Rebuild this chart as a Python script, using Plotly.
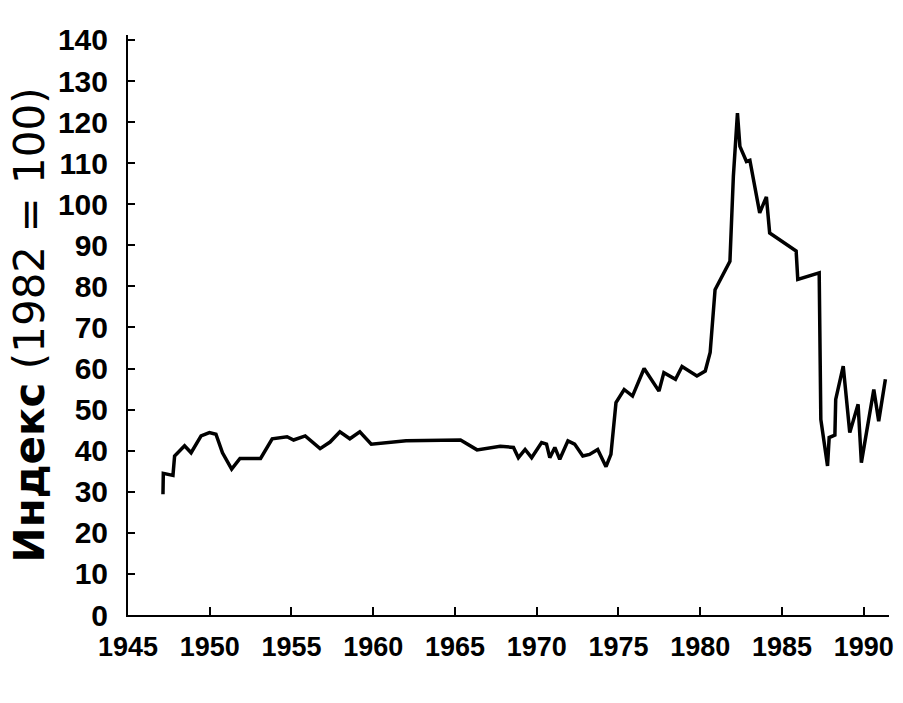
import plotly.graph_objects as go

years = [1947.14, 1947.16, 1947.75, 1947.85, 1948.46, 1948.86, 1949.47, 1949.98, 1950.38, 1950.78,
         1951.34, 1951.85, 1953.11, 1953.82, 1954.73, 1955.13, 1955.84, 1956.75, 1957.36, 1957.96,
         1958.57, 1959.18, 1959.88, 1962.01, 1965.34, 1966.35, 1967.77, 1968.58, 1968.88, 1969.29,
         1969.69, 1970.30, 1970.60, 1970.80, 1971.11, 1971.41, 1971.91, 1972.32, 1972.82, 1973.23,
         1973.73, 1974.24, 1974.54, 1974.85, 1975.35, 1975.86, 1976.57, 1977.48, 1977.78, 1978.49,
         1978.89, 1979.80, 1980.31, 1980.61, 1980.91, 1981.32, 1981.82, 1982.03, 1982.28, 1982.43,
         1982.83, 1983.04, 1983.64, 1984.05, 1984.25, 1985.87, 1985.97, 1987.28, 1987.38, 1987.79,
         1987.89, 1988.24, 1988.29, 1988.75, 1989.15, 1989.66, 1989.86, 1990.62, 1990.92, 1991.33]

index_values = [29.4, 34.5, 34.0, 38.7, 41.2, 39.5, 43.6, 44.4, 44.0, 39.5,
                35.5, 38.1, 38.1, 42.9, 43.4, 42.6, 43.6, 40.5, 42.1, 44.6,
                42.9, 44.6, 41.6, 42.4, 42.6, 40.2, 41.1, 40.8, 38.3, 40.3,
                38.3, 42.0, 41.6, 38.3, 40.8, 37.9, 42.4, 41.6, 38.7, 39.1,
                40.3, 36.1, 39.1, 51.7, 54.9, 53.3, 60.0, 54.5, 59.0, 57.4,
                60.5, 58.2, 59.4, 63.9, 79.2, 82.5, 86.1, 106.8, 122.2, 114.1,
                110.4, 110.7, 97.9, 101.8, 93.0, 88.6, 81.7, 83.3, 47.6, 36.3,
                43.2, 43.8, 52.5, 60.6, 44.4, 51.3, 37.1, 54.9, 47.2, 57.4]

x_ticks = [1945, 1950, 1955, 1960, 1965, 1970, 1975, 1980, 1985, 1990]
y_ticks = [0, 10, 20, 30, 40, 50, 60, 70, 80, 90, 100, 110, 120, 130, 140]

y_title = "<b>Индекс</b> (1982 = 100)"

x_tick_font = dict(family="Liberation Sans, Arial, sans-serif", size=27, color="black", weight="bold")
y_tick_font = dict(family="Liberation Sans, Arial, sans-serif", size=30, color="black", weight="bold")

fig = go.Figure()
fig.add_trace(go.Scatter(x=years, y=index_values, mode="lines",
                         line=dict(color="black", width=3.5), showlegend=False))

fig.update_layout(
    width=903, height=703,
    margin=dict(l=128, r=14, t=35, b=88),
    paper_bgcolor="white", plot_bgcolor="white",
)
fig.update_xaxes(range=[1945, 1991.55], tickmode="array", tickvals=x_ticks,
                 ticktext=[str(v) for v in x_ticks], automargin=False,
                 showgrid=False, zeroline=False, showline=True, linecolor="black", linewidth=2,
                 ticks="inside", ticklen=8, tickwidth=2, tickcolor="black",
                 tickfont=x_tick_font, ticklabelstandoff=7)
fig.update_yaxes(range=[0, 141.2], tickmode="array", tickvals=y_ticks,
                 ticktext=[str(v) for v in y_ticks], automargin=False,
                 showgrid=False, zeroline=False, showline=True, linecolor="black", linewidth=2,
                 ticks="inside", ticklen=7, tickwidth=2, tickcolor="black",
                 tickfont=y_tick_font, ticklabelstandoff=12,
                 title=dict(text=y_title, standoff=0,
                            font=dict(family="DejaVu Sans, sans-serif", size=42, color="black")))

fig.write_html("out.html", post_script="document.body.style.margin='0px';",
               config={"displayModeBar": False})
